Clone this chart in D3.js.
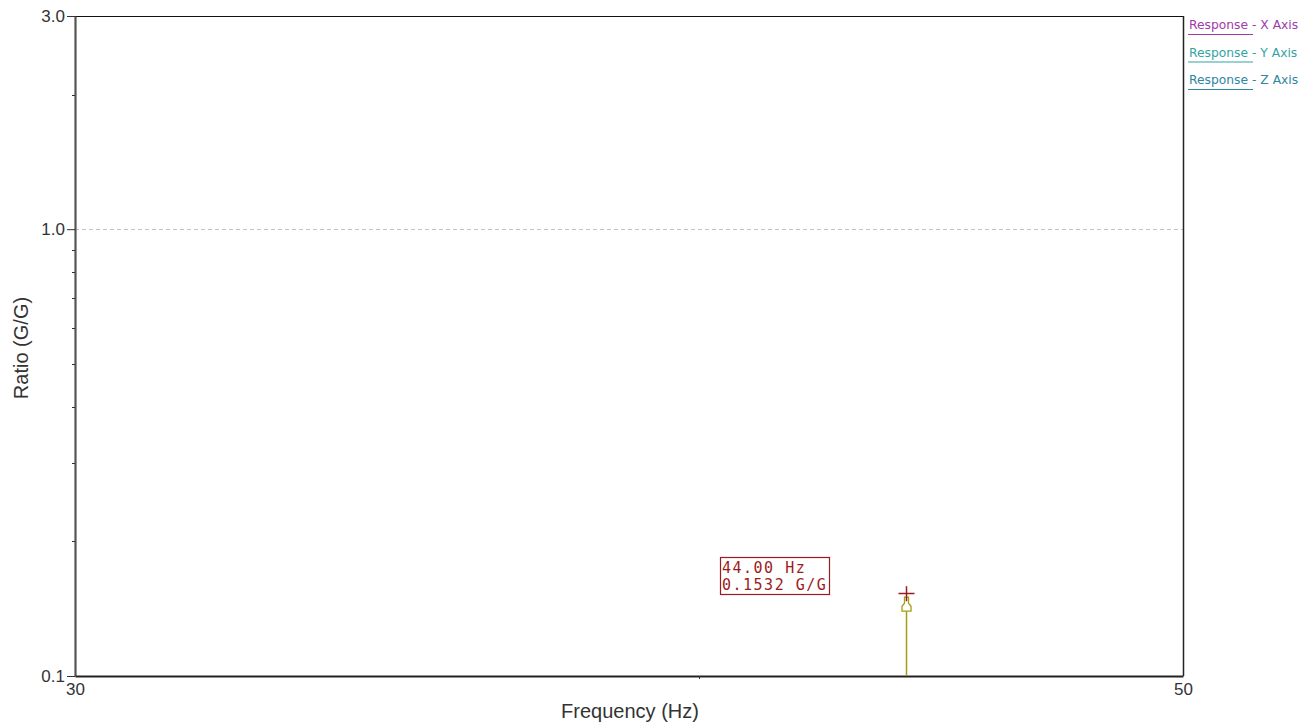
<!DOCTYPE html>
<html>
<head>
<meta charset="utf-8">
<script src="https://cdn.jsdelivr.net/npm/d3@7"></script>
<style>
  html, body { margin: 0; padding: 0; background: #fff; }
  svg { display: block; }
</style>
</head>
<body>
<svg id="chart" width="1312" height="726"></svg>
<script>
// Axis ranges and ticks
const xDomain = [30, 50];
const yDomain = [0.1, 3.0];
const xMajorTicks = [30, 50];
const xMinorTicks = [40];
const yMajorTicks = [0.1, 1.0, 3.0];
const yMinorTicks = [0.2, 0.3, 0.4, 0.5, 0.6, 0.7, 0.8, 0.9, 2.0];
const yGridTicks = [1.0];

// Peak marker
const peakFreq = [44.00];
const peakRatio = [0.1532];

// Legend entries
const legendNames = ["Response - X Axis", "Response - Y Axis", "Response - Z Axis"];
const legendColors = ["#a23aaa", "#35a3a3", "#2f86a0"];

const margin = { left: 75, right: 1183, top: 16, bottom: 676 };
const svg = d3.select("#chart");

const x = d3.scaleLog().domain(xDomain).range([margin.left, margin.right]);
const y = d3.scaleLog().domain(yDomain).range([margin.bottom, margin.top]);

const tickFont = "Liberation Sans, Arial, sans-serif";

// Gridline at 1.0
svg.append("g").selectAll("line").data(yGridTicks).join("line")
  .attr("x1", margin.left).attr("x2", margin.right)
  .attr("y1", d => Math.round(y(d)) + 0.5).attr("y2", d => Math.round(y(d)) + 0.5)
  .attr("stroke", "#c4c4c4").attr("stroke-dasharray", "4,3");

// Frame: top and right
svg.append("line").attr("x1", margin.left).attr("x2", margin.right + 0.5)
  .attr("y1", margin.top + 0.5).attr("y2", margin.top + 0.5)
  .attr("stroke", "#111").attr("stroke-width", 1);
svg.append("line").attr("x1", margin.right + 0.5).attr("x2", margin.right + 0.5)
  .attr("y1", margin.top).attr("y2", margin.bottom)
  .attr("stroke", "#222").attr("stroke-width", 1.5);

// Y axis
const yAxis = svg.append("g").attr("transform", `translate(${margin.left},0)`)
  .call(d3.axisLeft(y).tickValues(yMajorTicks).tickFormat(d3.format(".1f")).tickSizeInner(8).tickSizeOuter(0).tickPadding(2));
yAxis.select(".domain").attr("stroke", "#555").attr("stroke-width", 2.2);
yAxis.selectAll(".tick line").attr("stroke", "#333");
yAxis.selectAll("text").attr("font-family", tickFont).attr("font-size", 17).attr("fill", "#333");

svg.append("g").selectAll("line").data(yMinorTicks).join("line")
  .attr("x1", margin.left - 3).attr("x2", margin.left)
  .attr("y1", d => Math.round(y(d)) + 0.5).attr("y2", d => Math.round(y(d)) + 0.5)
  .attr("stroke", "#333");

// X axis
const xAxis = svg.append("g").attr("transform", `translate(0,${margin.bottom})`)
  .call(d3.axisBottom(x).tickValues(xMajorTicks).tickFormat(d3.format("d")).tickSize(0).tickPadding(7));
xAxis.select(".domain").attr("stroke", "#222").attr("stroke-width", 2);
xAxis.selectAll("text").attr("font-family", tickFont).attr("font-size", 17).attr("fill", "#333");

svg.append("g").selectAll("line").data(xMinorTicks).join("line")
  .attr("x1", d => Math.round(x(d)) + 0.5).attr("x2", d => Math.round(x(d)) + 0.5)
  .attr("y1", margin.bottom).attr("y2", margin.bottom + 3)
  .attr("stroke", "#333");

// Axis titles
svg.append("text").attr("x", (margin.left + margin.right) / 2 + 1).attr("y", 718)
  .attr("text-anchor", "middle").attr("font-family", tickFont).attr("font-size", 20).attr("fill", "#333")
  .text("Frequency (Hz)");
svg.append("text").attr("transform", `translate(28,${(margin.top + margin.bottom) / 2 + 2}) rotate(-90)`)
  .attr("text-anchor", "middle").attr("font-family", tickFont).attr("font-size", 20).attr("fill", "#333")
  .text("Ratio (G/G)");

// Peak stem and marker
const px = Math.round(x(peakFreq[0])) + 0.5;
const py = y(peakRatio[0]);
const olive = "#a59c16";
svg.append("line").attr("x1", px).attr("x2", px)
  .attr("y1", y(yDomain[0])).attr("y2", py + 18)
  .attr("stroke", olive).attr("stroke-width", 1.5);
// Hollow peak arrow
svg.append("path")
  .attr("d", `M${px - 2},${py + 4} L${px + 2},${py + 4} L${px + 2},${py + 10} L${px + 4.5},${py + 13} L${px + 4.5},${py + 18} L${px - 4.5},${py + 18} L${px - 4.5},${py + 13} L${px - 2},${py + 10} Z`)
  .attr("fill", "#fff").attr("stroke", olive).attr("stroke-width", 1.3);
// Crosshair
const red = "#9b1c1c";
svg.append("line").attr("x1", px - 8).attr("x2", px + 8).attr("y1", Math.round(py) + 0.5).attr("y2", Math.round(py) + 0.5)
  .attr("stroke", red).attr("stroke-width", 1.5);
svg.append("line").attr("x1", px).attr("x2", px).attr("y1", py - 7).attr("y2", py + 8)
  .attr("stroke", red).attr("stroke-width", 1.5);

// Value label box
const boxX = 720.5, boxY = 557.5, boxW = 109, boxH = 37;
svg.append("rect").attr("x", boxX).attr("y", boxY).attr("width", boxW).attr("height", boxH)
  .attr("fill", "#fff").attr("stroke", red).attr("stroke-width", 1.2);
const labelLines = [`${peakFreq[0].toFixed(2)} Hz`, `${peakRatio[0].toFixed(4)} G/G`];
svg.append("g").selectAll("text").data(labelLines).join("text")
  .attr("x", boxX + 1.5).attr("y", (d, i) => boxY + 15 + i * 17)
  .attr("font-family", "DejaVu Sans Mono, Liberation Mono, monospace").attr("font-size", 15)
  .attr("letter-spacing", 1.5)
  .attr("fill", red).text(d => d);

// Legend
const leg = svg.append("g").selectAll("g").data(legendNames).join("g")
  .attr("transform", (d, i) => `translate(1189,${29 + i * 27.5})`);
leg.append("text").attr("x", 0).attr("y", 0)
  .attr("font-family", "DejaVu Sans, Verdana, sans-serif").attr("font-size", 12.3)
  .attr("fill", (d, i) => legendColors[i]).text(d => d);
leg.append("line").attr("x1", -1).attr("x2", 64).attr("y1", 5.5).attr("y2", 5.5)
  .attr("stroke", (d, i) => legendColors[i]).attr("stroke-width", 1.2);
</script>
</body>
</html>
